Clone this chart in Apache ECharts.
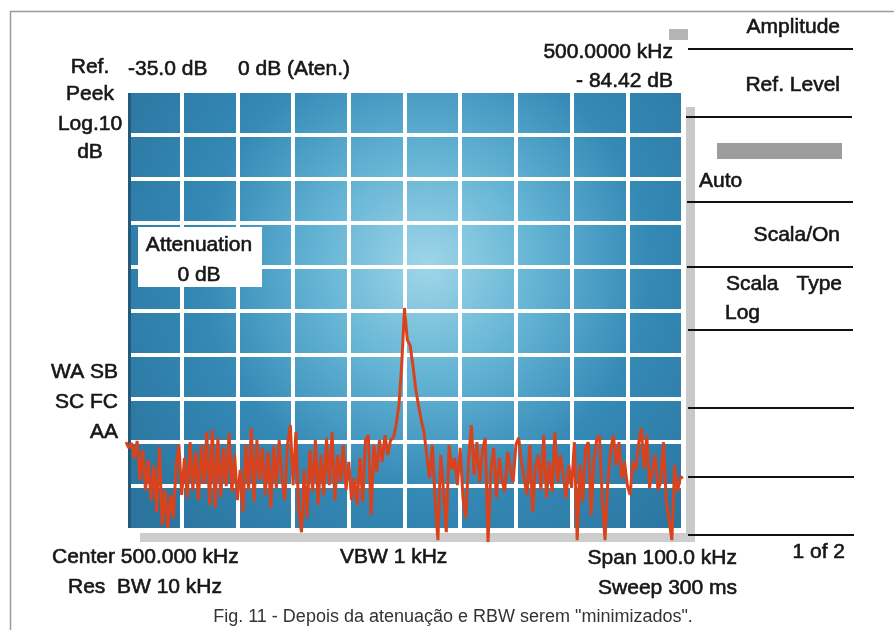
<!DOCTYPE html>
<html>
<head>
<meta charset="utf-8">
<script src="https://cdn.jsdelivr.net/npm/echarts@6/dist/echarts.min.js"></script>
<style>
  html, body { margin: 0; padding: 0; background: #ffffff; }
  #chart { width: 894px; height: 630px; }
</style>
</head>
<body>
<div id="chart"></div>
<script>
// Sweep setup
const centerKHz = 500;
const spanKHz = 100;
const sweepStepKHz = 0.5;
const refLevelDb = -35;
const dbPerDiv = 10;
const divisions = 10;

// Marker readout
const markerKHz = 500;
const markerDb = -84.42;

// Measured trace in dB, one reading per sweep step from 450 kHz to 550 kHz
const traceDb = [
  -115.0, -116.3, -115.2, -118.6, -114.7, -123.6, -116.8, -125.9, -119.1, -128.2,
  -120.4, -130.9, -116.1, -133.9, -125.9, -134.5, -127.0, -132.3, -120.4, -115.6,
  -127.0, -118.6, -127.7, -115.0, -125.9, -117.2, -128.2, -115.6, -124.5, -112.7,
  -129.3, -112.2, -130.0, -114.0, -127.5, -116.3, -125.0, -112.9, -126.3, -117.9,
  -128.2, -121.3, -130.9, -115.6, -125.9, -111.8, -128.6, -114.5, -123.6, -116.3,
  -127.0, -117.2, -130.0, -115.9, -125.4, -114.5, -123.2, -128.2, -115.6, -111.1,
  -124.8, -112.7, -130.4, -135.5, -121.3, -132.3, -116.8, -126.3, -114.5, -129.3,
  -117.9, -127.0, -114.0, -124.8, -112.7, -128.2, -117.9, -124.1, -115.6, -125.9,
  -119.5, -128.2, -123.2, -129.3, -118.6, -128.6, -114.5, -113.4, -131.6, -115.6,
  -121.8, -114.5, -119.5, -113.4, -117.9, -114.5, -114.0, -111.1, -106.5, -97.4,
  -84.42, -91.7, -92.9, -97.4, -102.7, -106.5, -109.9, -112.7, -117.9, -123.2,
  -115.6, -128.2, -137.3, -117.9, -125.9, -135.5, -115.6, -121.3, -118.6, -124.8,
  -116.3, -127.7, -132.3, -119.1, -111.1, -122.5, -115.0, -124.1, -116.8, -114.0,
  -137.7, -121.3, -116.3, -127.7, -118.6, -123.6, -126.3, -117.2, -121.3, -124.1,
  -115.6, -114.0, -119.5, -123.6, -127.0, -115.6, -130.9, -120.9, -117.9, -125.9,
  -113.4, -127.7, -119.5, -126.3, -112.7, -124.1, -117.9, -122.5, -127.7, -120.2,
  -125.4, -115.0, -137.3, -120.2, -128.6, -116.3, -115.0, -131.6, -119.5, -114.5,
  -113.4, -127.7, -137.3, -124.1, -116.8, -113.4, -120.2, -115.0, -123.2, -119.5,
  -124.8, -127.0, -119.5, -121.3, -115.6, -111.8, -120.9, -113.4, -125.4, -121.3,
  -117.9, -125.9, -124.1, -115.0, -128.6, -132.7, -137.3, -120.2, -126.3, -123.2,
  -122.9
];

const startKHz = centerKHz - spanKHz / 2;
const stopKHz = centerKHz + spanKHz / 2;
const bottomDb = refLevelDb - dbPerDiv * divisions;
const traceData = traceDb.map((db, i) => [startKHz + i * sweepStepKHz, db]);

const FONT = '"Liberation Sans", Arial, Helvetica, sans-serif';
const INK = '#161616';

function txt(text, x, y, align, size, color, weight) {
  return {
    type: 'text', x: x, y: y, z: 20, silent: true,
    style: {
      text: text,
      font: (size || 21) + 'px ' + FONT,
      fill: color || INK,
      stroke: color || INK,
      lineWidth: weight === undefined ? 0.6 : weight,
      textAlign: align || 'left',
      textVerticalAlign: 'middle'
    }
  };
}
function hline(y, x1, x2, color, w) {
  return {
    type: 'line', z: 20, silent: true,
    shape: { x1: x1, y1: y, x2: x2, y2: y },
    style: { stroke: color || '#111', lineWidth: w || 2 }
  };
}
function vline(x, y1, y2, color, w) {
  return {
    type: 'line', z: 20, silent: true,
    shape: { x1: x, y1: y1, x2: x, y2: y2 },
    style: { stroke: color, lineWidth: w || 1 }
  };
}
function box(x, y, w, h, fill, z) {
  return { type: 'rect', z: z || 1, silent: true, shape: { x: x, y: y, width: w, height: h }, style: { fill: fill } };
}

const chart = echarts.init(document.getElementById('chart'), null, { renderer: 'canvas' });

const option = {
  animation: false,
  backgroundColor: '#ffffff',
  grid: {
    left: 126, top: 91, width: 557, height: 439,
    show: true, borderWidth: 0,
    backgroundColor: new echarts.graphic.RadialGradient(0.54, 0.4, 0.85, [
      { offset: 0, color: '#9fd6e8' },
      { offset: 0.3, color: '#63b3d4' },
      { offset: 0.6, color: '#3489b5' },
      { offset: 1, color: '#2a749e' }
    ])
  },
  xAxis: {
    type: 'value', min: startKHz, max: stopKHz, interval: 10,
    axisLine: { show: false }, axisTick: { show: false }, axisLabel: { show: false },
    splitLine: { show: true, lineStyle: { color: '#ffffff', width: 4 } }
  },
  yAxis: [
    {
      // amplitude scale for the trace
      type: 'value', min: bottomDb, max: refLevelDb, show: false,
      splitLine: { show: false }
    },
    {
      // graticule: one line per division
      type: 'value', min: 0, max: divisions, interval: 1,
      axisLine: { show: false }, axisTick: { show: false }, axisLabel: { show: false },
      splitLine: { show: true, lineStyle: { color: '#ffffff', width: 4 } }
    }
  ],
  series: [{
    type: 'line',
    yAxisIndex: 0,
    data: traceData,
    showSymbol: false,
    clip: false,
    z: 5,
    lineStyle: { color: '#d8431d', width: 3 },
    emphasis: { disabled: true }
  }],
  graphic: [
    // frame
    hline(11.5, 10, 894, '#9a9a9a', 1.5),
    vline(10.5, 11, 630, '#9a9a9a', 1.5),
    // dark left edge of the screen
    box(128, 93, 3, 435, '#235a7c', 1),
    // scroll bars
    box(686, 107, 9, 434, '#c9c9c9', 1),
    box(140, 533, 555, 9, '#cdcdcd', 1),
    // marker flag and soft key bar
    box(669, 29, 19, 11, '#b4b4b4', 1),
    box(717, 143, 125, 16, '#9d9d9d', 1),
    // attenuation box
    box(138, 227, 124, 60, '#ffffff', 15),
    txt('Attenuation', 199, 245, 'center'),
    txt('0 dB', 199, 275, 'center'),
    // left annotations
    txt('Ref.', 90, 67, 'center'),
    txt(refLevelDb.toFixed(1) + ' dB', 128, 69, 'left'),
    txt('0 dB (Aten.)', 238, 69, 'left'),
    txt('Peek', 90, 94, 'center'),
    txt('Log.10', 90, 124, 'center'),
    txt('dB', 90, 152, 'center'),
    txt('WA SB', 118, 372, 'right'),
    txt('SC FC', 118, 402, 'right'),
    txt('AA', 118, 432, 'right'),
    // marker readout
    txt(markerKHz.toFixed(4) + ' kHz', 673, 52, 'right'),
    txt('- ' + Math.abs(markerDb).toFixed(2) + ' dB', 673, 81, 'right'),
    // bottom annotations
    txt('Center ' + centerKHz.toFixed(3) + ' kHz', 52, 557, 'left'),
    txt('Res  BW 10 kHz', 68, 587, 'left'),
    txt('VBW 1 kHz', 340, 557, 'left'),
    txt('Span ' + spanKHz.toFixed(1) + ' kHz', 737, 558, 'right'),
    txt('Sweep 300 ms', 737, 588, 'right'),
    txt('1 of 2', 845, 552, 'right'),
    // soft key menu
    txt('Amplitude', 840, 27, 'right'),
    hline(49, 688, 853),
    txt('Ref. Level', 840, 85, 'right'),
    hline(117, 686, 852),
    txt('Auto', 699, 181, 'left'),
    hline(202, 687, 853),
    txt('Scala/On', 840, 235, 'right'),
    hline(267, 687, 853),
    txt('Scala', 726, 284, 'left'),
    txt('Type', 842, 284, 'right'),
    txt('Log', 725, 313, 'left'),
    hline(330, 688, 853),
    hline(408, 688, 854),
    hline(477, 688, 854),
    hline(535, 688, 854),
    // caption
    txt('Fig. 11 - Depois da atenuação e RBW serem "minimizados".', 453, 617, 'center', 18, '#333333', 0)
  ]
};

chart.setOption(option);
</script>
</body>
</html>
